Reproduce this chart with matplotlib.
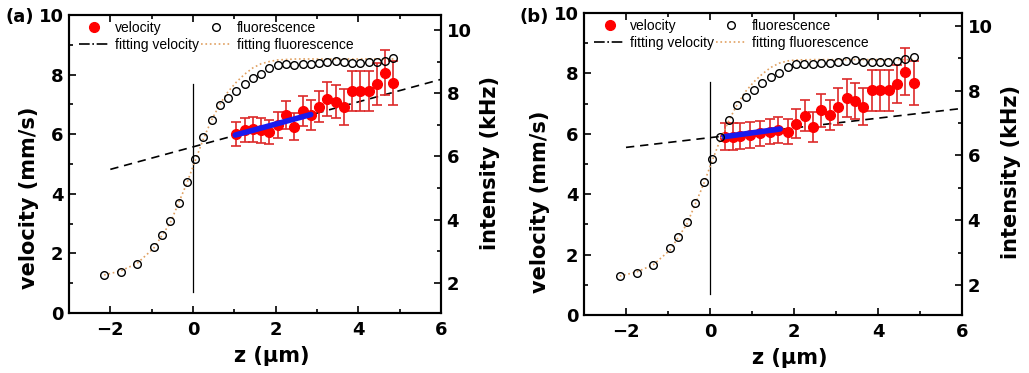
import matplotlib.pyplot as plt
from matplotlib.lines import Line2D
from matplotlib.ticker import MultipleLocator

# ---- panel (a) data ----
z_fl = [-2.15, -1.75, -1.35, -0.95, -0.75, -0.55, -0.35, -0.15, 0.05, 0.25, 0.45,
        0.65, 0.85, 1.05, 1.25, 1.45, 1.65, 1.85, 2.05, 2.25, 2.45, 2.65, 2.85,
        3.05, 3.25, 3.45, 3.65, 3.85, 4.05, 4.25, 4.45, 4.65, 4.85]
fl_a = [2.25, 2.36, 2.60, 3.15, 3.50, 3.95, 4.53, 5.19, 5.92, 6.60, 7.14,
        7.61, 7.84, 8.08, 8.29, 8.48, 8.61, 8.78, 8.89, 8.91, 8.89, 8.91, 8.93,
        8.95, 8.97, 9.01, 8.97, 8.95, 8.95, 8.97, 8.97, 9.03, 9.10]
z_fitfl = [-2.15, -1.75, -1.35, -0.95, -0.55, -0.15, 0.05, 0.25, 0.45, 0.65,
           0.85, 1.05, 1.25, 1.45, 1.65, 1.85, 2.05, 2.5, 4.85]
fitfl_a = [2.25, 2.38, 2.62, 3.10, 3.90, 5.15, 5.85, 6.55, 7.15, 7.65,
           8.05, 8.35, 8.60, 8.80, 8.93, 9.00, 9.05, 9.08, 9.08]

z_vel_a = [1.05, 1.25, 1.45, 1.65, 1.85, 2.05, 2.25, 2.45, 2.65, 2.85,
           3.05, 3.25, 3.45, 3.65, 3.85, 4.05, 4.25, 4.45, 4.65, 4.85]
vel_a = [6.01, 6.14, 6.16, 6.14, 6.07, 6.31, 6.64, 6.25, 6.79, 6.64,
         6.92, 7.19, 7.09, 6.92, 7.46, 7.46, 7.46, 7.68, 8.06, 7.71]
err_a = [0.40, 0.40, 0.42, 0.42, 0.40, 0.45, 0.47, 0.45, 0.50, 0.50,
         0.52, 0.57, 0.55, 0.60, 0.67, 0.67, 0.67, 0.70, 0.75, 0.74]
z_fitv_a = [-2.0, 6.0]
fitv_a = [4.82, 7.84]
z_blue_a = [1.02, 2.85]
blue_a = [5.97, 6.66]

# ---- panel (b) data ----
fl_b = [2.27, 2.37, 2.60, 3.13, 3.49, 3.93, 4.52, 5.17, 5.90, 6.56, 7.09,
        7.56, 7.80, 8.03, 8.23, 8.41, 8.55, 8.73, 8.81, 8.81, 8.81, 8.84, 8.86,
        8.90, 8.92, 8.96, 8.90, 8.88, 8.88, 8.90, 8.92, 8.98, 9.04]
fitfl_b = [2.27, 2.40, 2.62, 3.08, 3.88, 5.12, 5.83, 6.50, 7.08, 7.58,
           7.98, 8.28, 8.52, 8.72, 8.85, 8.92, 8.95, 8.96, 8.96]

z_vel_b = [0.35, 0.55, 0.72, 0.95, 1.18, 1.43, 1.63, 1.85, 2.05, 2.25, 2.45, 2.65,
           2.85, 3.05, 3.25, 3.45, 3.65, 3.85, 4.05, 4.25, 4.45, 4.65, 4.85]
vel_b = [5.90, 5.90, 5.93, 5.96, 6.02, 6.07, 6.13, 6.07, 6.33, 6.60, 6.22, 6.78,
         6.62, 6.90, 7.18, 7.09, 6.90, 7.44, 7.44, 7.44, 7.65, 8.06, 7.67]
err_b = [0.45, 0.45, 0.42, 0.42, 0.42, 0.42, 0.42, 0.41, 0.48, 0.52, 0.50, 0.54,
         0.51, 0.60, 0.64, 0.60, 0.60, 0.68, 0.68, 0.68, 0.62, 0.77, 0.73]
z_fitv_b = [-2.0, 6.0]
fitv_b = [5.55, 6.84]
z_blue_b = [0.32, 1.67]
blue_b = [5.90, 6.16]

ORANGE = '#e0a060'
TICKFONT = dict(family='DejaVu Sans', weight='bold', size=13)
LABFONT = dict(family='DejaVu Sans', weight='bold', size=15)

fig = plt.figure(figsize=(10.29, 3.73), dpi=100)


def draw_panel(rect, fl, fitfl, zv, v, err, zfv, fv, zb, b, ylim2, lab_pos, tag, tag_xy):
    ax = fig.add_axes(rect)
    ax2 = ax.twinx()

    ax.errorbar(zv, v, yerr=err, fmt='o', color='red', ms=7, ecolor='#dd2a2a',
                elinewidth=1.2, capsize=3.5, capthick=1.2, zorder=3)
    ax.plot(zb, b, color='#1a1aee', lw=4, solid_capstyle='round', zorder=4)
    ax.plot(zfv, fv, color='black', ls=(0, (5, 3.5)), lw=1.2, zorder=2)
    ax.plot([0, 0], [0.7, 7.7], color='black', lw=0.9)

    ax2.plot(z_fitfl, fitfl, color=ORANGE, ls=':', lw=1.2)
    ax2.plot(z_fl, fl, 'o', mfc='none', mec='black', mew=1.0, ms=5.5)

    ax.set_xlim(-3, 6)
    ax.set_ylim(0, 10)
    ax2.set_ylim(*ylim2)
    ax.xaxis.set_major_locator(MultipleLocator(2))
    ax.xaxis.set_minor_locator(MultipleLocator(1))
    ax.yaxis.set_major_locator(MultipleLocator(2))
    ax.yaxis.set_minor_locator(MultipleLocator(1))
    ax2.yaxis.set_major_locator(MultipleLocator(2))
    ax2.yaxis.set_minor_locator(MultipleLocator(1))

    ax.tick_params(which='both', direction='in', top=True, right=False, width=1.2)
    ax.tick_params(which='major', length=5)
    ax.tick_params(which='minor', length=3)
    ax.tick_params(axis='x', pad=6)
    ax.tick_params(axis='y', pad=4)
    ax2.tick_params(which='both', direction='in', width=1.2, pad=4)
    ax2.tick_params(which='major', length=5)
    ax2.tick_params(which='minor', length=3)
    for a in (ax, ax2):
        for s in a.spines.values():
            s.set_linewidth(1.5)
        for t in a.get_xticklabels() + a.get_yticklabels():
            t.set_fontproperties(TICKFONT)
            t.set_fontsize(13)

    ax.set_xlabel('z (\u00b5m)', **LABFONT)
    ax.set_ylabel('velocity (mm/s)', **LABFONT)
    ax2.set_ylabel('intensity (kHz)', **LABFONT)
    ax.xaxis.set_label_coords(*lab_pos[0])
    ax.yaxis.set_label_coords(*lab_pos[1])
    ax2.yaxis.set_label_coords(*lab_pos[2])
    for lbl in (ax.xaxis.label, ax.yaxis.label, ax2.yaxis.label):
        lbl.set_va('center')
        lbl.set_ha('center')

    handles = [
        Line2D([], [], marker='o', color='red', ls='none', ms=7),
        Line2D([], [], color='black', ls='-.', lw=1.2),
        Line2D([], [], marker='o', mfc='none', mec='black', ls='none', ms=5.5),
        Line2D([], [], color=ORANGE, ls=':', lw=1.2),
    ]
    labels = ['velocity', 'fitting velocity', 'fluorescence', 'fitting fluorescence']
    ax2.legend(handles, labels, ncol=2, loc='upper left', bbox_to_anchor=(0.02, 0.99),
               frameon=False, prop=dict(family='Liberation Sans', size=10),
               handlelength=2.2, handletextpad=0.4, columnspacing=0.1,
               labelspacing=0.25, borderpad=0.2, borderaxespad=0)

    fig.text(tag_xy[0] / 1029, 1 - tag_xy[1] / 373, tag, ha='center', va='center', **TICKFONT)
    return ax, ax2


draw_panel([69 / 1029, 60 / 373, 372 / 1029, 298 / 373], fl_a, fitfl_a,
           z_vel_a, vel_a, err_a, z_fitv_a, fitv_a, z_blue_a, blue_a,
           (1.05, 10.47), [(0.546, -0.144), (-0.1075, 0.386), (1.132, 0.503)],
           '(a)', (19.5, 17))
draw_panel([584 / 1029, 58 / 373, 378 / 1029, 302 / 373], fl_b, fitfl_b,
           z_vel_b, vel_b, err_b, z_fitv_b, fitv_b, z_blue_b, blue_b,
           (1.07, 10.4), [(0.545, -0.141), (-0.116, 0.374), (1.13, 0.472)],
           '(b)', (534, 16.5))

fig.savefig('out.png', dpi=100)
